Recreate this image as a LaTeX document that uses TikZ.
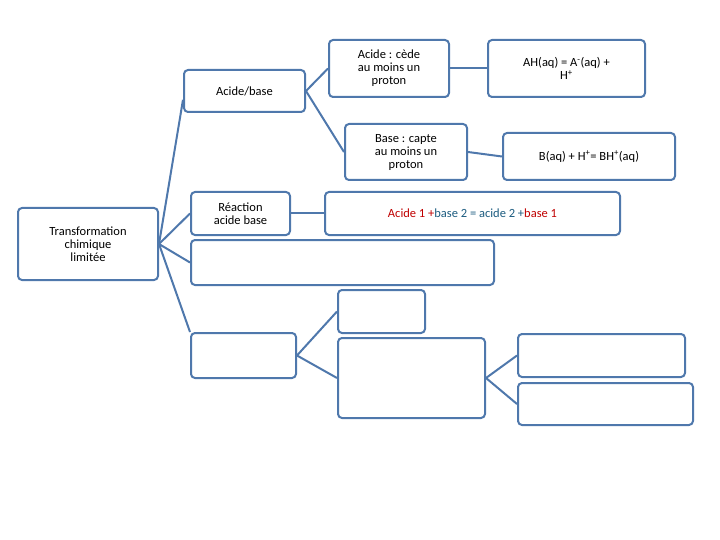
\documentclass[tikz,border=0pt]{standalone}
\usepackage{fontspec}
\setmainfont{Carlito}
\usetikzlibrary{calc}
\definecolor{boxblue}{RGB}{79,120,172}
\definecolor{eqred}{RGB}{192,0,0}
\definecolor{eqteal}{RGB}{28,92,128}
\tikzset{
  box/.style={draw=boxblue, line width=2pt, rounded corners=4pt, fill=white,
    align=center, inner sep=1pt, font=\fontsize{12.5}{13}\selectfont},
  link/.style={draw=boxblue, line width=2pt}
}
\begin{document}
\begin{tikzpicture}[x=1pt,y=-1pt]
  \useasboundingbox (0,0) rectangle (720,540);
  % first column
  \node[box, minimum width=140, minimum height=72] (trans) at (88,244) {Transformation\\chimique\\limitée};
  % second column
  \node[box, minimum width=121, minimum height=42] (ab) at (244.5,91) {Acide/base};
  \node[box, minimum width=99, minimum height=43] (reac) at (240.5,213.5) {Réaction\\acide base};
  \node[box, minimum width=303, minimum height=45] (vide) at (342.5,262.5) {};
  \node[box, minimum width=105, minimum height=45] (bas) at (243.5,355.5) {};
  % third column
  \node[box, minimum width=120, minimum height=57] (acide) at (389,68.5) {Acide : cède\\au moins un\\proton};
  \node[box, minimum width=122, minimum height=56] (base) at (406,152) {Base : capte\\au moins un\\proton};
  \node[box, minimum width=295, minimum height=43] (eq) at (472.5,213.5)
    {\color{eqred}Acide 1 +\color{eqteal}base 2 = acide 2 +\color{eqred}base 1};
  \node[box, minimum width=87, minimum height=43] (petit) at (381.5,311.5) {};
  \node[box, minimum width=147, minimum height=80] (grand) at (411.5,378) {};
  % fourth column
  \node[box, minimum width=157, minimum height=57] (ah) at (566.5,68.5) {AH(aq) = A\textsuperscript{-}(aq) +\\H\textsuperscript{+}};
  \node[box, minimum width=172, minimum height=47] (baq) at (589,156.5) {B(aq) + H\textsuperscript{+}= BH\textsuperscript{+}(aq)};
  \node[box, minimum width=167, minimum height=43] (d1) at (601.5,355.5) {};
  \node[box, minimum width=175, minimum height=42] (d2) at (605.5,404) {};
  % connectors
  \draw[link] (trans.east) -- ($(ab.south west)!0.3!(ab.north west)$);
  \draw[link] (trans.east) -- (reac.west);
  \draw[link] (trans.east) -- (vide.west);
  \draw[link] (trans.east) -- (bas.north west);
  \draw[link] (ab.east) -- (acide.west);
  \draw[link] (ab.east) -- (base.west);
  \draw[link] (acide.east) -- (ah.west);
  \draw[link] (base.east) -- (baq.west);
  \draw[link] (reac.east) -- (eq.west);
  \draw[link] (bas.east) -- (petit.west);
  \draw[link] (bas.east) -- (grand.west);
  \draw[link] (grand.east) -- (d1.west);
  \draw[link] (grand.east) -- (d2.west);
\end{tikzpicture}
\end{document}
